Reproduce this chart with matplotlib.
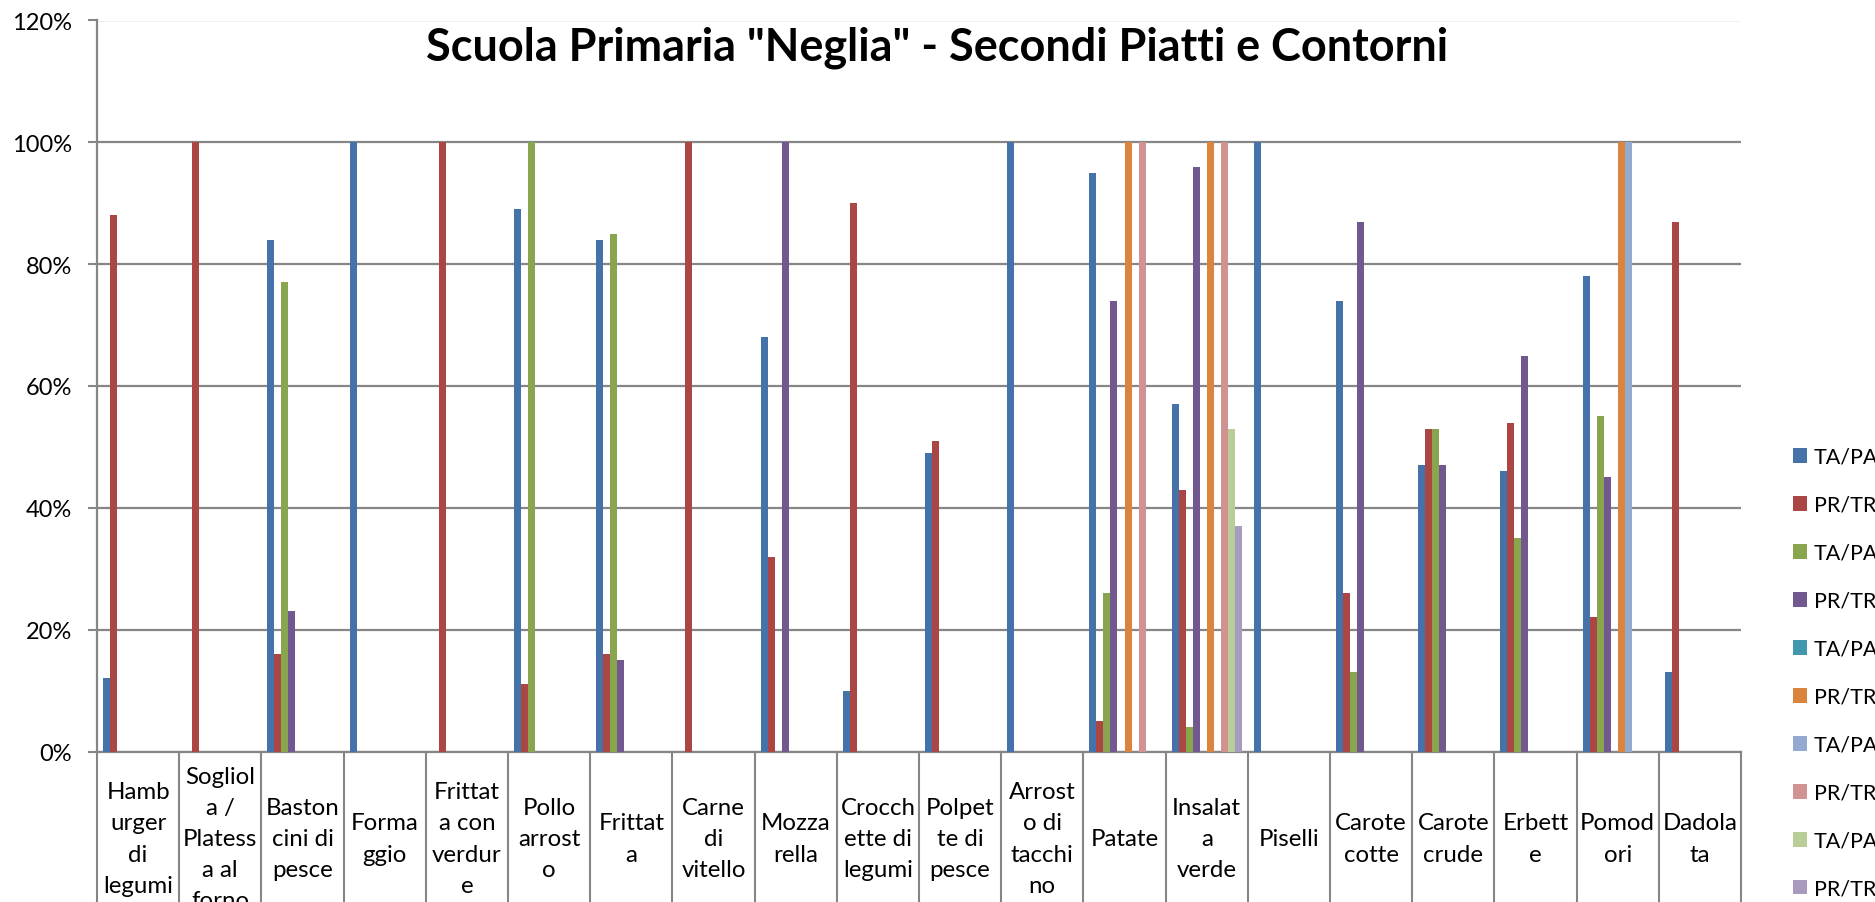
import matplotlib.pyplot as plt
from matplotlib.patches import Patch
import numpy as np

plt.rcParams['font.family'] = ['Lato', 'DejaVu Sans']

categories = ["Hamb\nurger\ndi\nlegumi", "Sogliol\na /\nPlatess\na al\nforno", "Baston\ncini di\npesce",
              "Forma\nggio", "Frittat\na con\nverdur\ne", "Pollo\narrost\no", "Frittat\na",
              "Carne\ndi\nvitello", "Mozza\nrella", "Crocch\nette di\nlegumi", "Polpet\nte di\npesce",
              "Arrost\no di\ntacchi\nno", "Patate", "Insalat\na\nverde", "Piselli", "Carote\ncotte",
              "Carote\ncrude", "Erbett\ne", "Pomod\nori", "Dadola\nta"]

series_labels = ["TA/PA", "PR/TR", "TA/PA", "PR/TR", "TA/PA", "PR/TR", "TA/PA", "PR/TR", "TA/PA", "PR/TR"]

s1 = [12, 0, 84, 100, 0, 89, 84, 0, 68, 10, 49, 100, 95, 57, 100, 74, 47, 46, 78, 13]
s2 = [88, 100, 16, 0, 100, 11, 16, 100, 32, 90, 51, 0, 5, 43, 0, 26, 53, 54, 22, 87]
s3 = [0, 0, 77, 0, 0, 100, 85, 0, 0, 0, 0, 0, 26, 4, 0, 13, 53, 35, 55, 0]
s4 = [0, 0, 23, 0, 0, 0, 15, 0, 100, 0, 0, 0, 74, 96, 0, 87, 47, 65, 45, 0]
s5 = [0] * 20
s6 = [0, 0, 0, 0, 0, 0, 0, 0, 0, 0, 0, 0, 100, 100, 0, 0, 0, 0, 100, 0]
s7 = [0, 0, 0, 0, 0, 0, 0, 0, 0, 0, 0, 0, 0, 0, 0, 0, 0, 0, 100, 0]
s8 = [0, 0, 0, 0, 0, 0, 0, 0, 0, 0, 0, 0, 100, 100, 0, 0, 0, 0, 0, 0]
s9 = [0, 0, 0, 0, 0, 0, 0, 0, 0, 0, 0, 0, 0, 53, 0, 0, 0, 0, 0, 0]
s10 = [0, 0, 0, 0, 0, 0, 0, 0, 0, 0, 0, 0, 0, 37, 0, 0, 0, 0, 0, 0]
all_series = [s1, s2, s3, s4, s5, s6, s7, s8, s9, s10]

colors = ['#4672AA', '#AA4643', '#89A54E', '#71588F', '#4198AF',
          '#DB843D', '#93A9CF', '#D19392', '#B9CD96', '#A99BBD']

fig = plt.figure(figsize=(18.75, 9.03), dpi=100)
ax = fig.add_axes([97 / 1875, 1 - 752.5 / 903, (1741 - 97) / 1875, 731 / 903])

n = len(all_series)
w = 0.0854
x = np.arange(len(categories))
for j, (vals, c) in enumerate(zip(all_series, colors)):
    ax.bar(x + (j - (n - 1) / 2) * w, np.array(vals) / 100, width=w, color=c, linewidth=0, zorder=3)

ax.set_xlim(-0.5, len(categories) - 0.5)
ax.set_ylim(0, 1.2)
ticks = np.arange(0, 1.21, 0.2)
ax.set_yticks(ticks)
ax.set_yticklabels([f"{int(round(v * 100))}%" for v in ticks], fontsize=17)
ax.tick_params(axis='y', length=6.5, width=1.5, color='#868686', pad=11.5)
ax.set_xticks([])
ax.grid(axis='y', color='#868686', linewidth=1.6, zorder=0)
for s in ['top', 'right']:
    ax.spines[s].set_visible(False)
for s in ['left', 'bottom']:
    ax.spines[s].set_color('#868686')
    ax.spines[s].set_linewidth(1.6)

# category cells under the axis
trans = ax.get_xaxis_transform()
for b in np.arange(-0.5, len(categories), 1.0):
    ax.plot([b, b], [0, -0.21], transform=trans, color='#868686', linewidth=1.5, clip_on=False)
for i, lab in enumerate(categories):
    ax.text(i, -0.119, lab, transform=trans, ha='center', va='center', fontsize=17.3,
            linespacing=1.6, clip_on=False)

fig.suptitle('Scuola Primaria "Neglia" - Secondi Piatti e Contorni', x=0.5, y=1 - 48 / 903,
             va='center', fontsize=32.4, fontweight='bold')

handles = [Patch(facecolor=c, edgecolor='none') for c in colors]
fig.legend(handles, series_labels, loc='upper left', bbox_to_anchor=(1782 / 1875, 1 - 437 / 903),
           frameon=False, fontsize=15.5, borderpad=0, handlelength=0.68, handleheight=0.68,
           handletextpad=0.3, labelspacing=1.3)

fig.savefig('out.png', dpi=100)
